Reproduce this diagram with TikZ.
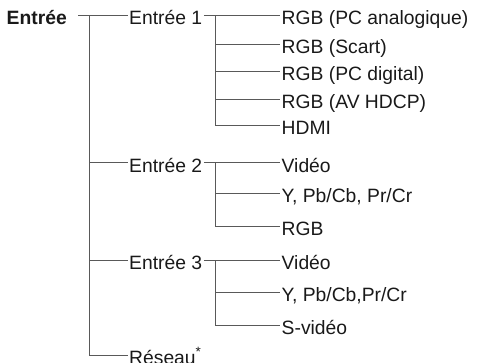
\documentclass[tikz,border=0pt]{standalone}
\usepackage{fontspec}
\setmainfont{Liberation Sans}
\begin{document}
\begin{tikzpicture}[x=1pt,y=-1pt,
  lbl/.style={anchor=west,inner xsep=1.5pt,inner ysep=0pt,text height=19pt,text depth=0pt,font=\fontsize{19.3}{22}\selectfont,text=black!90},
  conn/.style={draw=black!65,line width=0.9pt}]
\useasboundingbox (0,0) rectangle (477,362);
\coordinate (trunk) at (89,0);
\coordinate (sub) at (215,0);
\node[lbl,font=\fontsize{19.3}{22}\selectfont\bfseries] (root) at (5,15) {Entrée};
\node[lbl] (e1) at (127.5,15) {Entrée 1};
\node[lbl] (e2) at (127.5,162.5) {Entrée 2};
\node[lbl] (e3) at (127.5,260) {Entrée 3};
\node[lbl] (res) at (127.5,355) {Réseau\textsuperscript{*}};
\node[lbl] (c1) at (280,15) {RGB (PC analogique)};
\node[lbl] (c2) at (280,44) {RGB (Scart)};
\node[lbl] (c3) at (280,71) {RGB (PC digital)};
\node[lbl] (c4) at (280,99) {RGB (AV HDCP)};
\node[lbl] (c5) at (280,125) {HDMI};
\node[lbl] (d1) at (280,162.5) {Vidéo};
\node[lbl] (d2) at (280,193) {Y, Pb/Cb, Pr/Cr};
\node[lbl] (d3) at (280,226) {RGB};
\node[lbl] (f1) at (280,260) {Vidéo};
\node[lbl] (f2) at (280,292) {Y, Pb/Cb,Pr/Cr};
\node[lbl] (f3) at (280,325) {S-vidéo};
% trunk
\draw[conn] ([xshift=10pt]root.east) -- (e1.west);
\draw[conn] (trunk |- e1.west) -- (trunk |- res.west);
\foreach \n in {e2,e3,res} \draw[conn] (trunk |- \n.west) -- (\n.west);
% subtrees
\draw[conn] (e1.east) -- (c1.west);
\draw[conn] (sub |- c1.west) -- (sub |- c5.west);
\foreach \n in {c2,c3,c4,c5} \draw[conn] (sub |- \n.west) -- (\n.west);
\draw[conn] (e2.east) -- (d1.west);
\draw[conn] (sub |- d1.west) -- (sub |- d3.west);
\foreach \n in {d2,d3} \draw[conn] (sub |- \n.west) -- (\n.west);
\draw[conn] (e3.east) -- (f1.west);
\draw[conn] (sub |- f1.west) -- (sub |- f3.west);
\foreach \n in {f2,f3} \draw[conn] (sub |- \n.west) -- (\n.west);
\end{tikzpicture}
\end{document}
